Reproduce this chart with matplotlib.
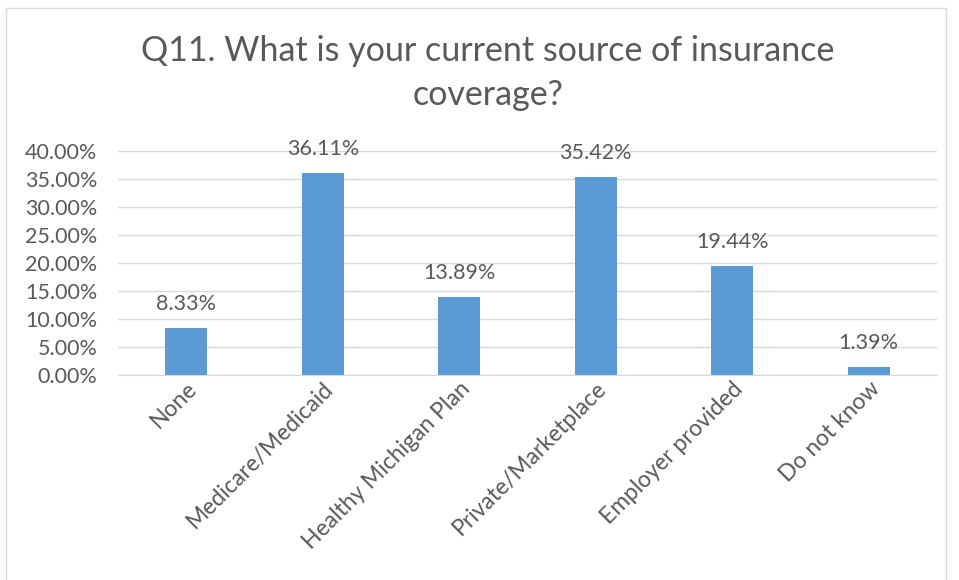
import matplotlib
matplotlib.use("Agg")
import matplotlib.pyplot as plt
from matplotlib.patches import Rectangle
from matplotlib.ticker import PercentFormatter

plt.rcParams['font.family'] = ['Lato', 'DejaVu Sans']

categories = ["None", "Medicare/Medicaid", "Healthy Michigan Plan",
              "Private/Marketplace", "Employer provided", "Do not know"]
shares = [8.33, 36.11, 13.89, 35.42, 19.44, 1.39]
y_ticks = [0, 5, 10, 15, 20, 25, 30, 35, 40]

TEXT = "#595959"
BAR = "#5B9BD5"
GRID = "#D9D9D9"

fig = plt.figure(figsize=(9.59, 5.80), dpi=100)
ax = fig.add_axes([118 / 959, 1 - 375 / 580, (937 - 118) / 959, (375 - 151) / 580])

# chart frame like Excel
fig.patches.append(Rectangle((6 / 959, -0.01), (946 - 6) / 959, 1 - 8 / 580 + 0.01,
                             transform=fig.transFigure, fill=False,
                             edgecolor=GRID, linewidth=1))

x = range(len(categories))
bars = ax.bar(x, shares, width=0.31, color=BAR, zorder=3)

for b, v in zip(bars, shares):
    ax.annotate(f"{v:.2f}%", (b.get_x() + b.get_width() / 2, v),
                xytext=(0, 10), textcoords="offset points",
                ha="center", va="bottom", fontsize=15.5, color=TEXT)

ax.set_xlim(-0.5, len(categories) - 0.5)
ax.set_ylim(0, 40)
ax.set_yticks(y_ticks)
ax.yaxis.set_major_formatter(PercentFormatter(decimals=2))
ax.grid(axis="y", color=GRID, linewidth=1, zorder=0)
ax.tick_params(axis="y", length=0, labelsize=15.5, labelcolor=TEXT, pad=15)
ax.tick_params(axis="x", length=0, labelsize=16.5, labelcolor=TEXT, pad=2)
ax.set_xticks(list(x))
ax.set_xticklabels(categories, rotation=45, ha="right", rotation_mode="anchor")

for s in ["top", "right", "left"]:
    ax.spines[s].set_visible(False)
ax.spines["bottom"].set_color(GRID)

fig.text(488 / 959, 1 - 73 / 580, "Q11. What is your current source of insurance\ncoverage?",
         ha="center", va="center", fontsize=24.5, color=TEXT, linespacing=1.45)

fig.savefig("out.png", dpi=100)
